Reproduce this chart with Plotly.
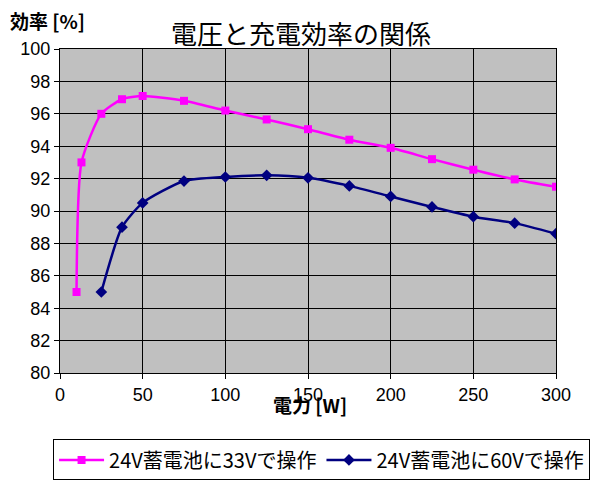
import plotly.graph_objects as go

# Data
power_33v = [10, 13, 25, 37.5, 50, 75, 100, 125, 150, 175, 200, 225, 250, 275, 300]
eff_33v = [85.0, 93.0, 96.0, 96.9, 97.1, 96.8, 96.2, 95.65, 95.05, 94.4, 93.9, 93.2, 92.55, 91.95, 91.5]

power_60v = [25, 37.5, 50, 75, 100, 125, 150, 175, 200, 225, 250, 275, 300]
eff_60v = [85.0, 89.0, 90.5, 91.85, 92.1, 92.2, 92.05, 91.55, 90.9, 90.25, 89.65, 89.25, 88.6]

name_33v = "24V蓄電池に33Vで操作"
name_60v = "24V蓄電池に60Vで操作"
title_text = "電圧と充電効率の関係"
x_title = "電力 [W]"
y_title = "効率 [%]"

x_ticks = [0, 50, 100, 150, 200, 250, 300]
y_ticks = list(range(80, 101, 2))

font_tick = "Liberation Sans, Arial"
font_cjk = "Noto Sans CJK JP"

fig = go.Figure()
fig.add_trace(go.Scatter(
    x=power_33v, y=eff_33v, name=name_33v, mode="lines+markers",
    line=dict(color="#ff00ff", width=2.5, shape="spline", smoothing=0.6),
    marker=dict(symbol="square", size=8, color="#ff00ff"),
))
fig.add_trace(go.Scatter(
    x=power_60v, y=eff_60v, name=name_60v, mode="lines+markers",
    line=dict(color="#000080", width=2.5, shape="spline", smoothing=0.6),
    marker=dict(symbol="diamond", size=9, color="#000080"),
))

fig.update_layout(
    width=599, height=484,
    margin=dict(l=52, r=51, t=41, b=109),
    paper_bgcolor="white",
    plot_bgcolor="#c0c0c0",
    showlegend=True,
    legend=dict(
        orientation="h", x=-0.014, y=-0.205, xanchor="left", yanchor="top",
        bgcolor="white", bordercolor="black", borderwidth=1,
        font=dict(family=font_cjk, size=20, color="black"),
        itemwidth=45, traceorder="normal",
    ),
    xaxis=dict(
        range=[0, 300], tickvals=x_ticks, showgrid=True, gridcolor="black", gridwidth=1,
        showline=True, linecolor="black", linewidth=1, mirror=True,
        ticks="outside", ticklen=5, tickcolor="black", zeroline=False,
        tickfont=dict(family=font_tick, size=18, color="black"),
    ),
    yaxis=dict(
        range=[80, 100], tickvals=y_ticks, showgrid=True, gridcolor="black", gridwidth=1,
        showline=True, linecolor="black", linewidth=1, mirror=True,
        ticks="outside", ticklen=5, tickcolor="black", zeroline=False,
        tickfont=dict(family=font_tick, size=18, color="black"),
    ),
    annotations=[
        dict(text=title_text, xref="paper", yref="paper", x=0.486, y=1.0, yshift=17,
             xanchor="center", yanchor="middle", showarrow=False,
             font=dict(family=font_cjk, size=26, color="black")),
        dict(text="<b>" + y_title + "</b>", xref="paper", yref="paper", x=0, y=1.0,
             xshift=-52, yshift=29, xanchor="left", yanchor="middle", showarrow=False,
             font=dict(family=font_cjk, size=19, color="black")),
        dict(text="<b>" + x_title + "</b>", xref="paper", yref="paper", x=0.504, y=0,
             yshift=-31, xanchor="center", yanchor="middle", showarrow=False,
             font=dict(family=font_cjk, size=19, color="black")),
    ],
)

fig.write_html("out.html")
